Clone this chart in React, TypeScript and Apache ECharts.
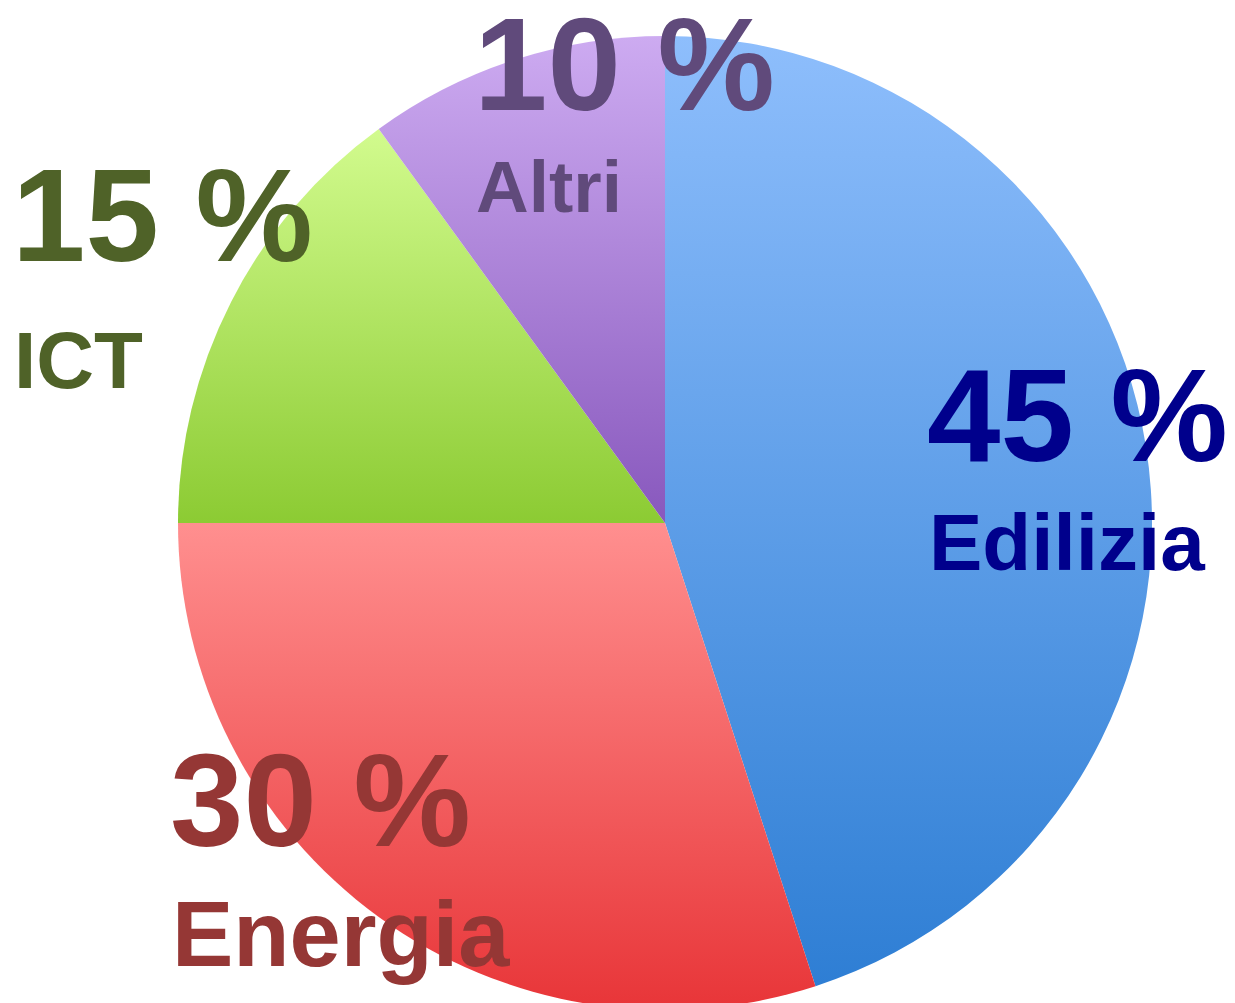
import React, { useEffect, useRef } from "react";
import * as echarts from "echarts";

const categories = ["Edilizia", "Energia", "ICT", "Altri"];
const values = [45, 30, 15, 10];
const topColors = ["#8ebefc", "#ff8f8f", "#d2fb8e", "#cdabf1"];
const bottomColors = ["#2e7ed4", "#e83538", "#8ccb33", "#8858bd"];
const labelColors = ["#00008c", "#953735", "#4f6228", "#604a7b"];
// label anchor: [x, percent cap-centre y, name cap-centre y, name font size]
const labelAnchors = [
  [927, 415, 542, 80],
  [170, 800, 934, 92],
  [12, 215, 360, 80],
  [474, 64, 186, 73],
];

export default function App() {
  const ref = useRef<HTMLDivElement>(null);
  useEffect(() => {
    if (!ref.current) return;
    const chart = echarts.init(ref.current, null, { renderer: "svg" });
    const font = "'Liberation Sans', Arial, sans-serif";
    const graphics: any[] = [];
    categories.forEach((name, i) => {
      const [x, py, ny, nfs] = labelAnchors[i];
      graphics.push({
        type: "text",
        z: 10,
        style: {
          x,
          y: py,
          text: `${values[i]} %`,
          fill: labelColors[i],
          font: `bold 132px ${font}`,
          lineHeight: 100,
          textAlign: "left",
          textVerticalAlign: "middle",
        },
      });
      graphics.push({
        type: "text",
        z: 10,
        style: {
          x: x + 2,
          y: ny,
          text: name,
          fill: labelColors[i],
          font: `bold ${nfs}px ${font}`,
          lineHeight: Math.round(nfs * 0.8),
          textAlign: "left",
          textVerticalAlign: "middle",
        },
      });
    });
    chart.setOption({
      animation: false,
      backgroundColor: "#ffffff",
      series: [
        {
          type: "pie",
          center: [665, 523],
          radius: [0, 487],
          startAngle: 90,
          clockwise: true,
          label: { show: false },
          labelLine: { show: false },
          emphasis: { disabled: true },
          itemStyle: { borderWidth: 0 },
          data: categories.map((name, i) => ({
            name,
            value: values[i],
            itemStyle: {
              color: new echarts.graphic.LinearGradient(0, 0, 0, 1, [
                { offset: 0, color: topColors[i] },
                { offset: 1, color: bottomColors[i] },
              ]),
            },
          })),
        },
      ],
      graphic: graphics,
    });
    return () => chart.dispose();
  }, []);
  return (
    <div
      ref={ref}
      style={{ position: "fixed", left: 0, top: 0, width: 1235, height: 1003 }}
    />
  );
}
